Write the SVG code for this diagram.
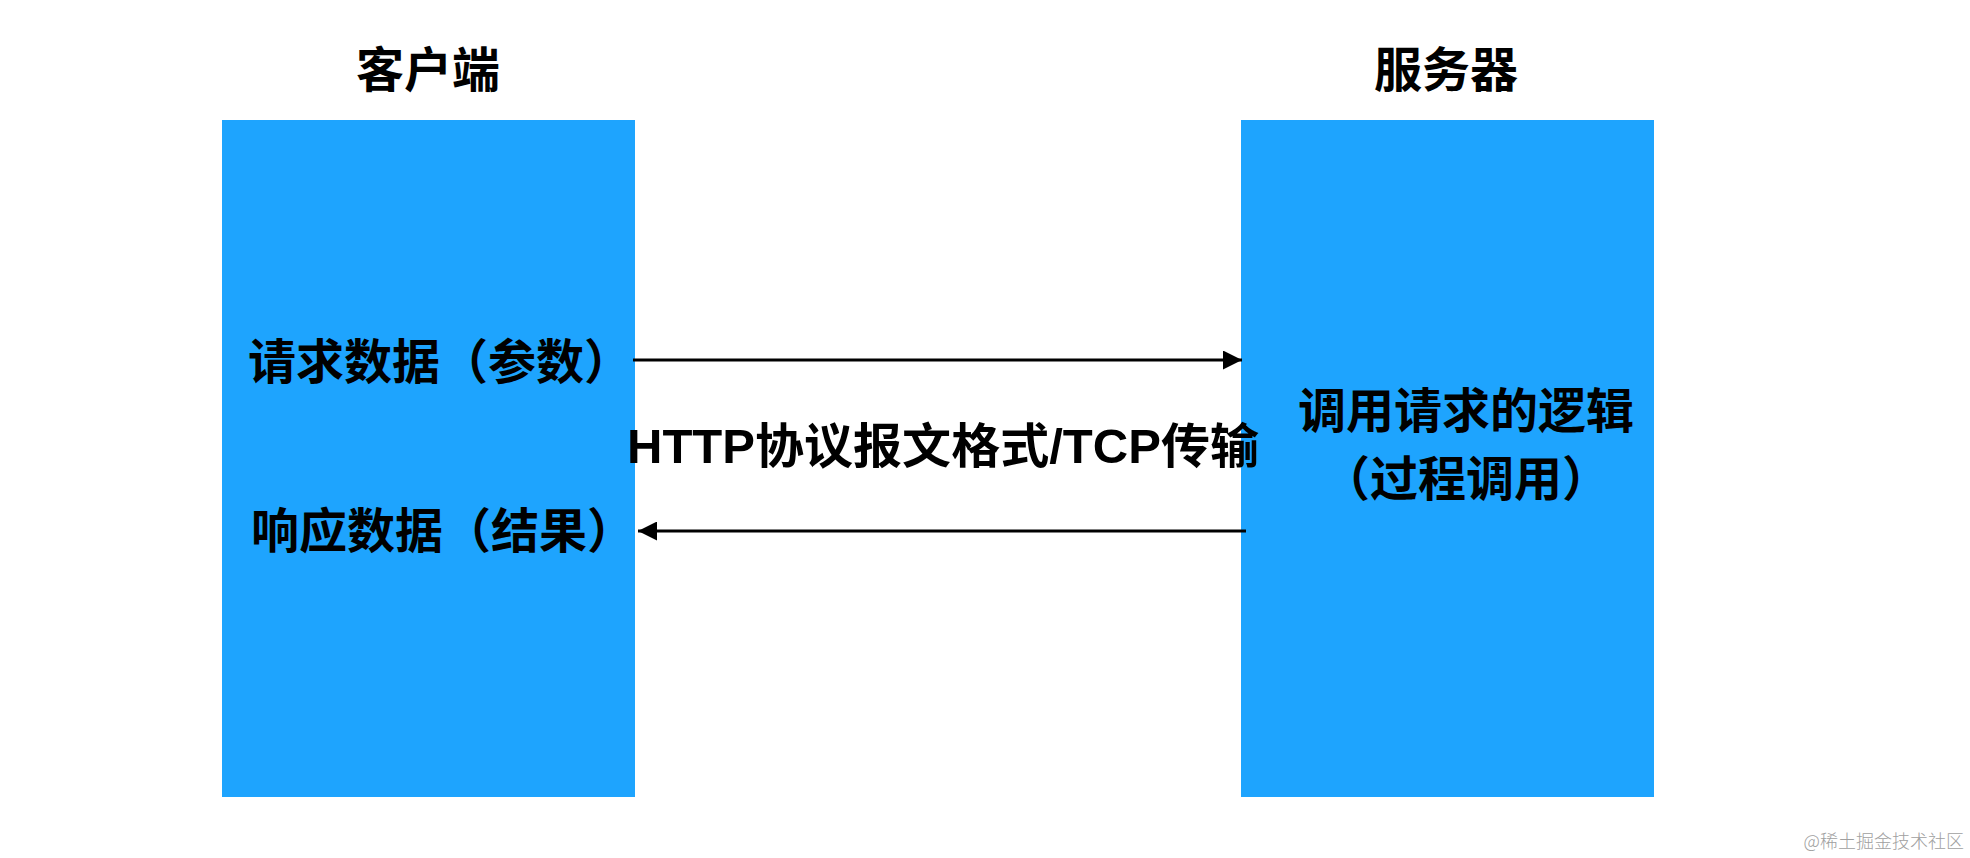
<svg xmlns="http://www.w3.org/2000/svg" width="1970" height="858" viewBox="0 0 1970 858">
<style>
.box{fill:#1ea4fe}
.t{font-family:"Noto Sans CJK SC","Liberation Sans",sans-serif;font-weight:bold;fill:#000}
.lbl{font-size:48px}
.mid{font-family:"Liberation Sans","Noto Sans CJK SC",sans-serif;font-weight:bold;fill:#000;font-size:48px}
.ln{stroke:#000;stroke-width:3.2;fill:none}
.wm{font-family:"Noto Sans CJK SC",sans-serif;font-size:18px;fill:#a0a0a0;font-weight:300}
</style>
<defs>
<marker id="ah" markerWidth="19" markerHeight="19" viewBox="0 0 19 19" refX="19" refY="9.5" orient="auto" markerUnits="userSpaceOnUse">
<path d="M0,0 L19,9.5 L0,19 Z" fill="#000"/>
</marker>
</defs>
<rect width="1970" height="858" fill="#fff"/>
<g id="client">
<rect class="box" x="222" y="120" width="413" height="677"/>
<text class="t lbl" x="428" y="87" text-anchor="middle">客户端</text>
<text class="t lbl" x="248" y="379">请求数据（参数）</text>
<text class="t lbl" x="251" y="548">响应数据（结果）</text>
</g>
<g id="server">
<rect class="box" x="1241" y="120" width="413" height="677"/>
<text class="t lbl" x="1446" y="87" text-anchor="middle">服务器</text>
<text class="t lbl" x="1466" y="428" text-anchor="middle">调用请求的逻辑</text>
<text class="t lbl" x="1466" y="496" text-anchor="middle">（过程调用）</text>
</g>
<g id="connectors">
<line class="ln" x1="633" y1="360" x2="1242" y2="360" marker-end="url(#ah)"/>
<line class="ln" x1="1246" y1="531" x2="638" y2="531" marker-end="url(#ah)"/>
<text class="mid" x="627" y="463" textLength="632" lengthAdjust="spacingAndGlyphs">HTTP协议报文格式/TCP传输</text>
</g>
<text class="wm" x="1964" y="848" text-anchor="end">@稀土掘金技术社区</text>
</svg>
